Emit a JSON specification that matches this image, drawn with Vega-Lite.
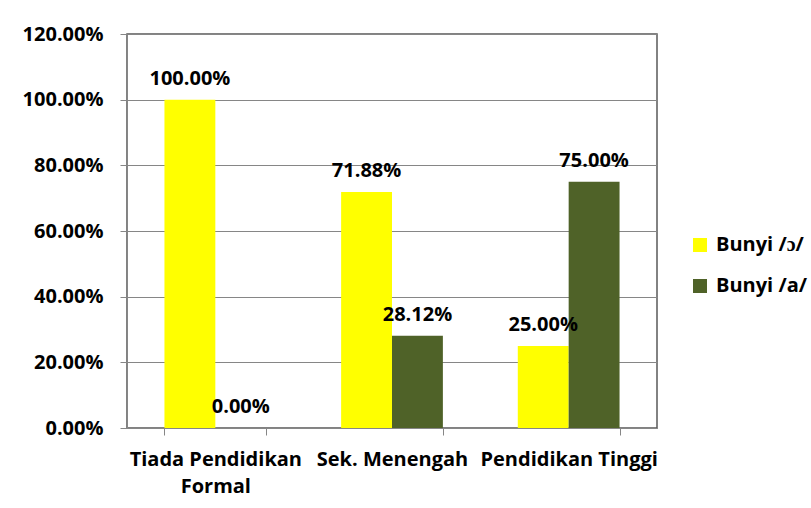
{
  "$schema": "https://vega.github.io/schema/vega-lite/v6.json",
  "width": 530,
  "height": 394,
  "autosize": "none",
  "padding": {"left": 127, "top": 34, "right": 154, "bottom": 80},
  "background": "white",
  "config": {
    "view": {"stroke": "#5a5a5a", "strokeWidth": 1.5},
    "font": "Open Sans",
    "axis": {"labelFont": "Open Sans", "labelFontWeight": "bold", "labelFontSize": 20, "labelColor": "#000000"},
    "legend": {"labelFont": "Open Sans", "labelFontWeight": "bold", "labelFontSize": 20, "labelColor": "#000000"}
  },
  "data": {
    "values": [
      {"kategori": "Tiada Pendidikan Formal", "bunyi": "Bunyi /ɔ/", "nilai": 1.0},
      {"kategori": "Tiada Pendidikan Formal", "bunyi": "Bunyi /a/", "nilai": 0.0},
      {"kategori": "Sek. Menengah", "bunyi": "Bunyi /ɔ/", "nilai": 0.7188},
      {"kategori": "Sek. Menengah", "bunyi": "Bunyi /a/", "nilai": 0.2812},
      {"kategori": "Pendidikan Tinggi", "bunyi": "Bunyi /ɔ/", "nilai": 0.25},
      {"kategori": "Pendidikan Tinggi", "bunyi": "Bunyi /a/", "nilai": 0.75}
    ]
  },
  "encoding": {
    "x": {
      "field": "kategori",
      "type": "nominal",
      "sort": ["Tiada Pendidikan Formal", "Sek. Menengah", "Pendidikan Tinggi"],
      "scale": {"paddingInner": 0.424, "paddingOuter": 0.212},
      "axis": {
        "title": null,
        "labelAngle": 0,
        "tickBand": "extent",
        "tickSize": 7,
        "tickColor": "#868686",
        "domainColor": "#868686",
        "labelPadding": 14,
        "labelLineHeight": 27,
        "labelExpr": "datum.value == 'Tiada Pendidikan Formal' ? ['Tiada Pendidikan', 'Formal'] : datum.value"
      }
    },
    "xOffset": {
      "field": "bunyi",
      "type": "nominal",
      "sort": ["Bunyi /ɔ/", "Bunyi /a/"],
      "scale": {"paddingInner": 0, "paddingOuter": 0}
    },
    "y": {
      "field": "nilai",
      "type": "quantitative",
      "scale": {"domain": [0, 1.2], "nice": false, "zero": true},
      "axis": {
        "title": null,
        "values": [0, 0.2, 0.4, 0.6, 0.8, 1.0, 1.2],
        "format": ".2%",
        "tickSize": 7,
        "tickColor": "#868686",
        "domainColor": "#868686",
        "gridColor": "#868686",
        "gridOpacity": 1,
        "labelPadding": 17
      }
    }
  },
  "layer": [
    {
      "mark": {"type": "bar"},
      "encoding": {
        "color": {
          "field": "bunyi",
          "type": "nominal",
          "scale": {"domain": ["Bunyi /ɔ/", "Bunyi /a/"], "range": ["#FFFF00", "#4F6228"]},
          "legend": {
            "title": null,
            "orient": "none",
            "legendX": 563,
            "legendY": 201,
            "symbolType": "square",
            "symbolSize": 196,
            "symbolStrokeWidth": 0,
            "symbolOpacity": 1,
            "labelOffset": 6,
            "rowPadding": 21,
            "padding": 0
          }
        }
      }
    },
    {
      "mark": {"type": "text", "baseline": "alphabetic", "dy": -15, "font": "Open Sans", "fontWeight": "bold", "fontSize": 20, "color": "#000000"},
      "encoding": {
        "text": {"field": "nilai", "type": "quantitative", "format": ".2%"}
      }
    }
  ]
}
